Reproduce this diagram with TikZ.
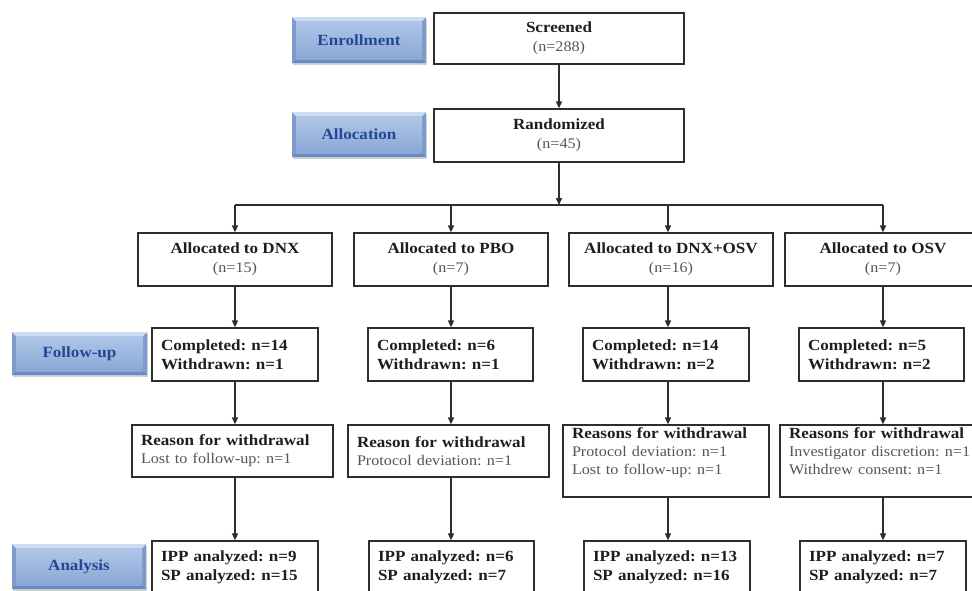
\documentclass[tikz,border=0pt]{standalone}
\usepackage{fontspec}
\setmainfont{Liberation Serif}[FakeStretch=1.1]
\usetikzlibrary{arrows.meta,shadows}
\frenchspacing
\definecolor{boxc}{RGB}{45,45,45}
\definecolor{txtc}{RGB}{30,30,30}
\definecolor{regc}{RGB}{85,85,85}
\definecolor{phtext}{RGB}{32,72,150}
\definecolor{phlight}{RGB}{205,222,242}
\definecolor{phtop}{RGB}{175,198,231}
\definecolor{phbot}{RGB}{138,168,214}
\definecolor{phedge}{RGB}{125,155,203}
\definecolor{phdark}{RGB}{108,138,188}
\newcommand{\rg}[1]{{\mdseries\fontsize{14.7}{19}\selectfont\color{regc}#1}}
\newcommand{\deep}{\rule[-20pt]{0pt}{20pt}}
\tikzset{
  every node/.style={font=\fontsize{15.5}{19}\selectfont\bfseries, text=txtc},
  box/.style={draw=boxc, line width=1.2pt, fill=white, inner ysep=0pt, inner xsep=9pt},
  cbox/.style={box, align=center},
  lbox/.style={box, align=left, text width=#1},
  rbox/.style={box, align=left, text width=#1, font=\fontsize{15.5}{18}\selectfont\bfseries},
  arr/.style={draw=boxc, line width=1.5pt, -{Triangle[length=7pt,width=6pt]}},
  ln/.style={draw=boxc, line width=1.5pt},
  phase/.style={minimum width=#1, minimum height=45pt, inner sep=0pt, text=phtext, fill=phedge,
    drop shadow={shadow xshift=0.5pt, shadow yshift=-2pt, fill=black!35, opacity=0.5},
    path picture={
      \fill[phlight] (path picture bounding box.north west) -- (path picture bounding box.north east)
        -- ([shift={(-4pt,-4pt)}]path picture bounding box.north east)
        -- ([shift={(4pt,-4pt)}]path picture bounding box.north west) -- cycle;
      \fill[phdark] (path picture bounding box.south west) -- (path picture bounding box.south east)
        -- ([shift={(-4pt,4pt)}]path picture bounding box.south east)
        -- ([shift={(4pt,4pt)}]path picture bounding box.south west) -- cycle;
      \shade[top color=phtop, bottom color=phbot]
        ([shift={(4pt,-4pt)}]path picture bounding box.north west)
        rectangle ([shift={(-4pt,4pt)}]path picture bounding box.south east);
    }},
}
\begin{document}
\begin{tikzpicture}[x=1pt,y=-1pt]
\clip (0,0) rectangle (972,590);
\fill[white] (0,0) rectangle (972,590);

% phase labels
\node[phase=134pt, minimum height=46pt] (lEn) at (359,40) {Enrollment};
\node[phase=134pt] (lAl) at (359,134.5) {Allocation};
\node[phase=135pt, minimum height=43pt] (lFu) at (79.5,353.5) {Follow-up};
\node[phase=134pt] (lAn) at (79,566.5) {Analysis};

% top boxes
\node[cbox, minimum width=250pt, minimum height=51pt] (scr) at (559,38.5) {Screened\\\rg{(n=288)}};
\node[cbox, minimum width=250pt, minimum height=53pt] (rnd) at (559,135.5) {Randomized\\\rg{(n=45)}};

% allocation
\node[cbox, minimum width=194pt, minimum height=53pt] (a1) at (235,259.5) {Allocated to DNX\\\rg{(n=15)}};
\node[cbox, minimum width=194pt, minimum height=53pt] (a2) at (451,259.5) {Allocated to PBO\\\rg{(n=7)}};
\node[cbox, minimum width=204pt, minimum height=53pt] (a3) at (671,259.5) {Allocated to DNX+OSV\\\rg{(n=16)}};
\node[cbox, minimum width=196pt, minimum height=53pt] (a4) at (883,259.5) {Allocated to OSV\\\rg{(n=7)}};

% follow-up
\node[lbox=148pt, minimum height=53pt] (c1) at (235,354.5) {Completed: n=14\\Withdrawn: n=1};
\node[lbox=147pt, minimum height=53pt] (c2) at (450.5,354.5) {Completed: n=6\\Withdrawn: n=1};
\node[lbox=148pt, minimum height=53pt] (c3) at (666,354.5) {Completed: n=14\\Withdrawn: n=2};
\node[lbox=147pt, minimum height=53pt] (c4) at (881.5,354.5) {Completed: n=5\\Withdrawn: n=2};

% reasons
\node[rbox=183pt, minimum height=52pt] (r1) at (232.5,451) {Reason for withdrawal\\\rg{Lost to follow-up: n=1}};
\node[rbox=183pt, minimum height=52pt] (r2) at (448.5,451) {Reason for withdrawal\\\rg{Protocol deviation: n=1}};
\node[rbox=188pt, minimum height=72pt] (r3) at (666,461) {Reasons for withdrawal\\\rg{Protocol deviation: n=1}\\\rg{Lost to follow-up: n=1}\deep};
\node[rbox=186pt, minimum height=72pt] (r4) at (882,461) {Reasons for withdrawal\\\rg{Investigator discretion: n=1}\\\rg{Withdrew consent: n=1}\deep};

% analysis
\node[lbox=148pt, minimum height=53pt] (p1) at (235,567.5) {IPP analyzed: n=9\\SP analyzed: n=15};
\node[lbox=147pt, minimum height=53pt] (p2) at (451.5,567.5) {IPP analyzed: n=6\\SP analyzed: n=7};
\node[lbox=148pt, minimum height=53pt] (p3) at (667,567.5) {IPP analyzed: n=13\\SP analyzed: n=16};
\node[lbox=148pt, minimum height=53pt] (p4) at (883,567.5) {IPP analyzed: n=7\\SP analyzed: n=7};

% connectors
\coordinate (x1) at (235,205);
\coordinate (x2) at (451,205);
\coordinate (x3) at (668,205);
\coordinate (x4) at (883,205);
\coordinate (xr) at (559,205);
\draw[arr] (scr.south) -- (rnd.north);
\draw[ln] (x1) -- (x4);
\draw[arr] (rnd.south) -- (xr);
\foreach \i in {1,2,3,4}{
  \draw[arr] (x\i) -- (x\i |- a\i.north);
  \draw[arr] (x\i |- a\i.south) -- (x\i |- c\i.north);
  \draw[arr] (x\i |- c\i.south) -- (x\i |- r\i.north);
  \draw[arr] (x\i |- r\i.south) -- (x\i |- p\i.north);
}
\end{tikzpicture}
\end{document}
